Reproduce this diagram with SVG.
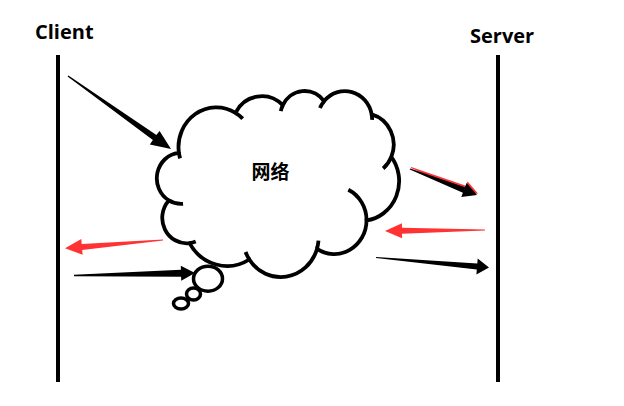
<svg xmlns="http://www.w3.org/2000/svg" width="624" height="406" viewBox="0 0 624 406">
<style>
.lbl{font-family:"Open Sans","Liberation Sans",sans-serif;font-weight:bold;font-size:20px;fill:#000}
.cjk{font-family:"Noto Sans CJK SC","Noto Sans",sans-serif;font-weight:bold;font-size:19px;fill:#000}
.life{stroke:#000;stroke-width:4;fill:none}
.cl{stroke:#000;stroke-width:3.8;vector-effect:non-scaling-stroke;stroke-linecap:butt}
.bub{fill:#fff;stroke:#000;stroke-width:3.5}
.blk{fill:#000}
.red{fill:#f33}
</style>
<rect width="624" height="406" fill="#fff"/>
<g id="client">
<line class="life" x1="58" y1="55" x2="58" y2="382"/>
<text class="lbl" x="35" y="39">Client</text>
</g>
<g id="server">
<line class="life" x1="498" y1="55" x2="498" y2="382"/>
<text class="lbl" x="470" y="43">Server</text>
</g>
<g id="network">
<g transform="translate(157,90.4) scale(0.0056019,0.0043056)">
<path class="cl" fill="#fff" d="M3900,14370 A6753,9190 0 0 1 14006,5203 A5333,7267 0 0 1 22458,3435 A4365,5945 0 0 1 29836,2486 A4857,6595 0 0 1 38320,5582 A5333,7273 0 0 1 41821,15466 A6775,9220 0 0 1 37406,30209 A5785,7867 0 0 1 28558,36818 A6752,9215 0 0 1 16482,39271 A7720,10543 0 0 1 5806,35475 A4360,5918 0 0 1 2115,25552 A4345,5945 0 0 1 3866,14509 Z"/>
<path class="cl" fill="none" d="M4649,26349 A4345,5945 0 0 1 2115,25552 M6914,35094 A4360,5918 0 0 1 5806,35475 M16482,39271 A6752,9215 0 0 1 15813,37531 M28824,34910 A6752,9215 0 0 1 28558,36818 M34154,23072 A5785,7867 0 0 1 37406,30209 M41821,15466 A5333,7273 0 0 1 40373,18142 M38320,5582 A4857,6595 0 0 1 38397,6846 M29093,4098 A4857,6595 0 0 1 29836,2486 M22099,4826 A4365,5945 0 0 1 22458,3435 M14006,5203 A6753,9190 0 0 1 15303,6549 M4126,15790 A6753,9190 0 0 1 3900,14370"/>
</g>
<ellipse class="bub" cx="181" cy="303.5" rx="7.5" ry="5.5"/>
<ellipse class="bub" cx="193.5" cy="294" rx="7" ry="6"/>
<ellipse class="bub" cx="208" cy="278.7" rx="14.5" ry="12.5"/>
<text class="cjk" x="270.5" y="179" text-anchor="middle">网络</text>
</g>
<g id="connectors">
<polygon class="blk" points="67.6,76.5 152.9,139.9 149.8,144.4 171,149 159.6,130.9 156.4,135.0 68.4,75.5"/>
<polygon class="red" points="163,239.4 81.7,243.9 81.3,239.0 65,248.3 82.6,254.8 82.2,249.9 163,240.6"/>
<polygon class="blk" points="74,274.8 180.9,269.8 180.8,265.8 195,273 181.2,280.8 181.1,276.8 74,276.2"/>
<polygon class="red" transform="translate(1,-1.5)" points="409.8,169.5 462.9,192.7 461.3,196.9 477,195 466.6,183.0 465.0,187.2 410.2,168.5"/>
<polygon class="blk" points="409.8,169.5 462.9,192.7 461.3,196.9 477,195 466.6,183.0 465.0,187.2 410.2,168.5"/>
<polygon class="red" points="485,229.4 402,227.8 401.9,223.3 385,231 402.1,238.3 402,233.8 485,230.6"/>
<polygon class="blk" points="376,258.1 476.8,269.4 476.4,274.4 489,267.5 477.7,258.5 477.3,263.4 376,256.9"/>
</g>
</svg>
